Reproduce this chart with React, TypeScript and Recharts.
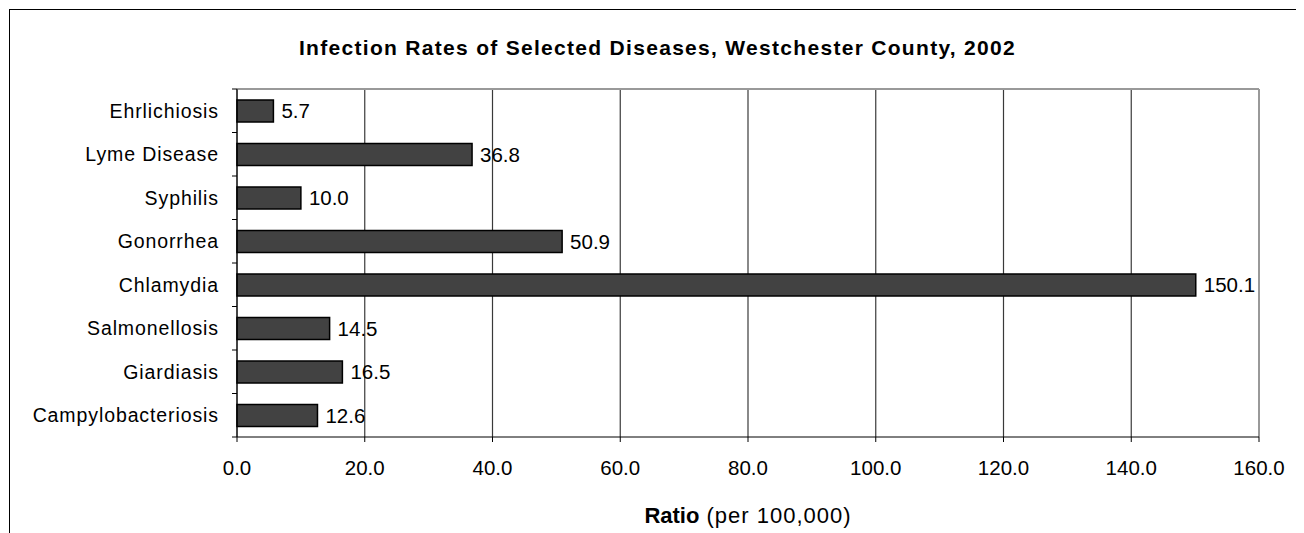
import React from 'react';
import {BarChart, Bar, XAxis, YAxis, CartesianGrid, LabelList} from 'recharts';

const CATEGORIES = [
  'Ehrlichiosis',
  'Lyme Disease',
  'Syphilis',
  'Gonorrhea',
  'Chlamydia',
  'Salmonellosis',
  'Giardiasis',
  'Campylobacteriosis'
];
const RATES = [5.7, 36.8, 10.0, 50.9, 150.1, 14.5, 16.5, 12.6];
const X_TICKS = [0, 20, 40, 60, 80, 100, 120, 140, 160];

const TITLE = 'Infection Rates of Selected Diseases, Westchester County, 2002';
const FONT = '"Liberation Sans", Arial, sans-serif';

const CHART_W = 1294;
const CHART_H = 523;
const PLOT_H = 348;
const BAND = PLOT_H / CATEGORIES.length;
const TICK_SIZE = 6;
const TICK_MARGIN = 12;

const data = CATEGORIES.map((name, i) => ({name, rate: RATES[i]}));

// excel style: tick marks sit between the categories, not on them
function CategoryTick(props: any) {
  const {x, y, payload, index} = props;
  const axisX = x + TICK_SIZE + TICK_MARGIN;
  const last = index === CATEGORIES.length - 1;
  return (
    <g>
      <line x1={axisX - 5} x2={axisX} y1={y - BAND / 2} y2={y - BAND / 2} stroke="#000" />
      {last && <line x1={axisX - 5} x2={axisX} y1={y + BAND / 2} y2={y + BAND / 2} stroke="#000" />}
      <text
        x={x}
        y={y}
        dy="0.36em"
        textAnchor="end"
        fontSize={19.5}
        letterSpacing={0.9}
        fill="#000"
        fontFamily={FONT}
      >
        {payload.value}
      </text>
    </g>
  );
}

function AxisTitle(props: any) {
  const vb = props.viewBox;
  return (
    <text x={vb.x + vb.width / 2} y={vb.y + 86} textAnchor="middle" fontSize={22} fill="#000" fontFamily={FONT}>
      <tspan fontWeight="bold">Ratio</tspan>
      <tspan letterSpacing={1}> (per 100,000)</tspan>
    </text>
  );
}

export default function App() {
  return (
    <div
      style={{
        position: 'relative',
        marginLeft: 1,
        marginTop: 1,
        width: 1295,
        height: 524,
        borderTop: '1px solid #000',
        borderLeft: '1px solid #000',
        boxSizing: 'border-box',
        fontFamily: FONT,
        overflow: 'hidden'
      }}
    >
      <div
        style={{
          position: 'absolute',
          left: 0,
          top: 25,
          width: 1295,
          textAlign: 'center',
          fontSize: 21,
          fontWeight: 'bold',
          letterSpacing: 1.3,
          lineHeight: '26px',
          color: '#000'
        }}
      >
        {TITLE}
      </div>
      <BarChart
        width={CHART_W}
        height={CHART_H}
        data={data}
        layout="vertical"
        margin={{top: 79, right: 45, left: 0, bottom: 0}}
        barCategoryGap="49%"
      >
        <CartesianGrid horizontal={false} vertical stroke="#3a3a3a" strokeWidth={1.2} />
        <CartesianGrid
          horizontalCoordinatesGenerator={({offset}: any) => [offset.top]}
          verticalCoordinatesGenerator={({offset}: any) => [offset.left + offset.width]}
          stroke="#999"
          strokeWidth={2}
        />
        <XAxis
          type="number"
          domain={[0, 160]}
          ticks={X_TICKS}
          interval={0}
          tickFormatter={(v: number) => v.toFixed(1)}
          tick={{fontSize: 20.5, fill: '#000', fontFamily: FONT}}
          tickSize={5}
          tickMargin={18}
          axisLine={{stroke: '#000'}}
          tickLine={{stroke: '#000'}}
          height={96}
          label={<AxisTitle />}
        />
        <YAxis
          type="category"
          dataKey="name"
          width={227}
          interval={0}
          tickLine={false}
          tickSize={TICK_SIZE}
          tickMargin={TICK_MARGIN}
          axisLine={{stroke: '#000'}}
          tick={<CategoryTick />}
        />
        <Bar dataKey="rate" fill="#424242" stroke="#000" strokeWidth={1.5} barSize={22} isAnimationActive={false}>
          <LabelList
            dataKey="rate"
            position="right"
            offset={8}
            formatter={(v: any) => Number(v).toFixed(1)}
            style={{fontSize: 20.5, fill: '#000', fontFamily: FONT}}
          />
        </Bar>
      </BarChart>
    </div>
  );
}
